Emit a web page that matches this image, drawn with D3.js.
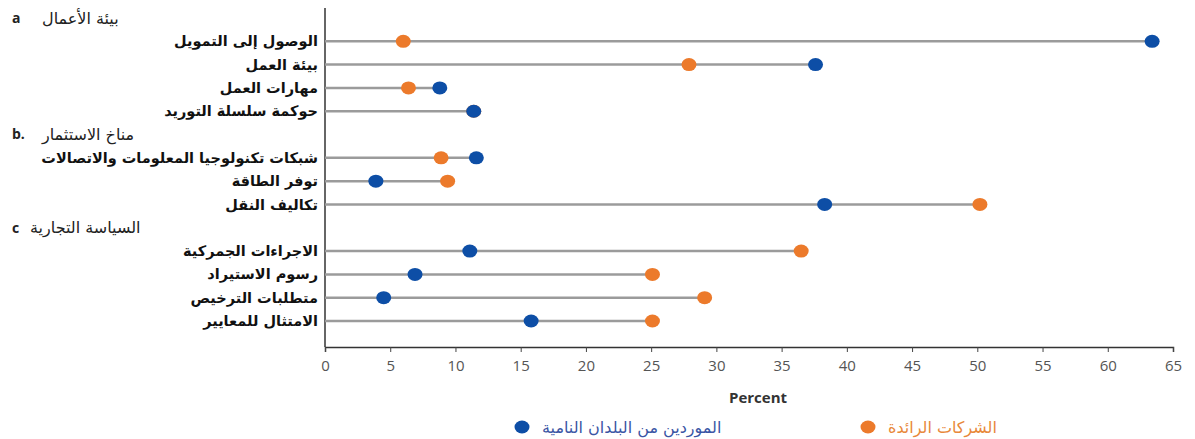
<!DOCTYPE html>
<html><head><meta charset="utf-8">
<script src="https://cdn.jsdelivr.net/npm/d3@7"></script>
<style>body{margin:0;background:#fff}svg{display:block}</style>
</head><body><svg id="chart" width="1195" height="439"></svg>
<script>
// ---- data ----
const groups = ["a", "b", "c"];
const groupTitles = ["بيئة الأعمال", "مناخ الاستثمار", "السياسة التجارية"];
const groupLetters = ["a", "b.", "c"];
const categories = [
  "الوصول إلى التمويل", "بيئة العمل", "مهارات العمل", "حوكمة سلسلة التوريد",
  "شبكات تكنولوجيا المعلومات والاتصالات", "توفر الطاقة", "تكاليف النقل",
  "الاجراءات الجمركية", "رسوم الاستيراد", "متطلبات الترخيص", "الامتثال للمعايير"
];
const categoryGroup = ["a","a","a","a","b","b","b","c","c","c","c"];
const leadFirms = [6.0, 27.9, 6.4, 11.4, 8.9, 9.4, 50.2, 36.5, 25.1, 29.1, 25.1];
const suppliers = [63.4, 37.6, 8.8, 11.4, 11.6, 3.9, 38.3, 11.1, 6.9, 4.5, 15.8];
const xTicks = [0,5,10,15,20,25,30,35,40,45,50,55,60,65];
const seriesNames = ["الموردين من البلدان النامية", "الشركات الرائدة"];
const xTitle = "Percent";

// ---- layout ----
const blue = "#0d4ea6", orange = "#ec7a2b";
const svg = d3.select("#chart");
const arFont = "'DejaVu Sans', sans-serif";
const latFont = "'Open Sans', 'Lato', sans-serif";

const slots = [];
groups.forEach(g => {
  slots.push("h_" + g);
  categories.forEach((c, i) => { if (categoryGroup[i] === g) slots.push("c_" + i); });
});
const y = d3.scalePoint().domain(slots).range([18, 321]);
const x = d3.scaleLinear().domain([0, 65]).range([325, 1173]);
const axisY = 347;

svg.append("line").attr("x1", x(0)).attr("x2", x(0)).attr("y1", 8).attr("y2", axisY)
  .attr("stroke", "#333").attr("stroke-width", 1.5);

const xAxis = d3.axisBottom(x).tickValues(xTicks).tickSize(5).tickPadding(8).tickFormat(d3.format("d"));
const gx = svg.append("g").attr("transform", `translate(0,${axisY})`).call(xAxis);
gx.select(".domain").attr("stroke", "#333").attr("stroke-width", 1.5);
gx.selectAll(".tick line").attr("stroke", "#444");
gx.selectAll(".tick text").attr("font-family", latFont).attr("font-size", 15).attr("fill", "#555");

svg.append("text").attr("x", 758).attr("y", 403).attr("text-anchor", "middle")
  .attr("font-family", latFont).attr("font-weight", "bold").attr("font-size", 15).attr("fill", "#333")
  .text(xTitle);

groups.forEach((g, i) => {
  const yy = y("h_" + g);
  svg.append("text").attr("x", 12).attr("y", yy).attr("dy", "0.35em")
    .attr("font-family", latFont).attr("font-weight", "bold").attr("font-size", 14).attr("fill", "#222")
    .text(groupLetters[i]);
  svg.append("text").attr("x", i === 2 ? 30 : 42).attr("y", yy).attr("dy", "0.35em")
    .attr("font-family", arFont).attr("font-size", 16).attr("fill", "#222")
    .text(groupTitles[i]);
});

categories.forEach((c, i) => {
  svg.append("text").attr("x", 318).attr("y", y("c_" + i)).attr("dy", "0.35em")
    .attr("text-anchor", "end").attr("font-family", arFont).attr("font-weight", "bold")
    .attr("font-size", 14.5).attr("fill", "#111").text(c);
});

const rows = categories.map((c, i) => ({ c, i, o: leadFirms[i], b: suppliers[i] }));
svg.append("g").selectAll("line").data(rows).join("line")
  .attr("x1", x(0)).attr("x2", d => x(Math.max(d.o, d.b)))
  .attr("y1", d => y("c_" + d.i)).attr("y2", d => y("c_" + d.i))
  .attr("stroke", "#9b9b9b").attr("stroke-width", 2.5);

svg.append("g").selectAll("ellipse").data(rows).join("ellipse")
  .attr("cx", d => x(d.o)).attr("cy", d => y("c_" + d.i)).attr("rx", 7.5).attr("ry", 6.5)
  .attr("fill", orange);
svg.append("g").selectAll("ellipse").data(rows).join("ellipse")
  .attr("cx", d => x(d.b)).attr("cy", d => y("c_" + d.i)).attr("rx", 7.5).attr("ry", 6.5)
  .attr("fill", blue);

const legend = [
  { name: seriesNames[0], color: blue, tcolor: "#3a55a4", x: 522 },
  { name: seriesNames[1], color: orange, tcolor: "#e8883a", x: 868 }
];
legend.forEach(l => {
  svg.append("ellipse").attr("cx", l.x).attr("cy", 427).attr("rx", 7.5).attr("ry", 6.5).attr("fill", l.color);
  svg.append("text").attr("x", l.x + 20).attr("y", 427).attr("dy", "0.35em")
    .attr("font-family", arFont).attr("font-size", 16).attr("fill", l.tcolor).text(l.name);
});
</script>
</body></html>
